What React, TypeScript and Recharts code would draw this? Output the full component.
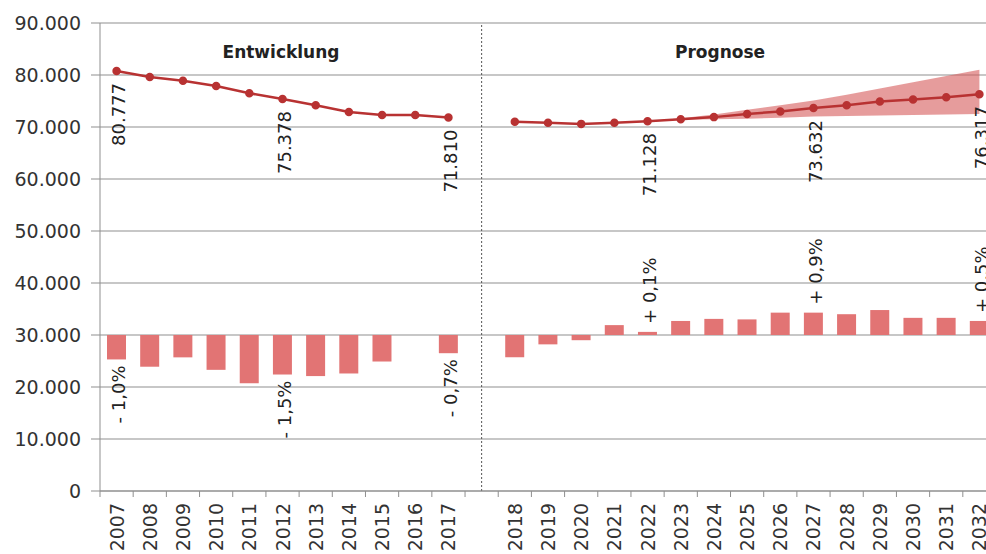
import React from "react";
import {
  ComposedChart,
  Line,
  Bar,
  Area,
  XAxis,
  YAxis,
  CartesianGrid,
  ReferenceLine,
  LabelList,
} from "recharts";

// categories
const YEARS_HIST = ["2007", "2008", "2009", "2010", "2011", "2012", "2013", "2014", "2015", "2016", "2017"];
const YEARS_PROG = [
  "2018", "2019", "2020", "2021", "2022", "2023", "2024", "2025",
  "2026", "2027", "2028", "2029", "2030", "2031", "2032",
];
const GAP = " ";

// line values
const HIST_VALUES = [80777, 79600, 78900, 77900, 76500, 75378, 74200, 72900, 72300, 72300, 71810];
const PROG_VALUES = [
  71000, 70800, 70600, 70800, 71128, 71500, 71900, 72500,
  73000, 73632, 74200, 74900, 75300, 75700, 76317,
];

// forecast corridor
const BAND_LOW = [null, null, null, null, 71128, 71400, 71500, 71600, 71800, 72000, 72100, 72200, 72300, 72400, 72500];
const BAND_HIGH = [null, null, null, null, 71128, 71700, 72400, 73300, 74200, 75100, 76200, 77400, 78600, 79800, 81000];

// bars drawn from the 30.000 line
const BAR_BASE = 30000;
const BAR_HIST = [25300, 23900, 25700, 23300, 20700, 22400, 22100, 22600, 24900, null, 26500];
const BAR_PROG = [
  25700, 28200, 29000, 31900, 30600, 32700, 33100, 33000,
  34300, 34300, 34000, 34800, 33300, 33300, 32700,
];

// labels
const HIST_LABELS = ["80.777", null, null, null, null, "75.378", null, null, null, null, "71.810"];
const PROG_LABELS = [null, null, null, null, "71.128", null, null, null, null, "73.632", null, null, null, null, "76.317"];
const HIST_PCT = ["- 1,0%", null, null, null, null, "- 1,5%", null, null, null, null, "- 0,7%"];
const PROG_PCT = [null, null, null, null, "+ 0,1%", null, null, null, null, "+ 0,9%", null, null, null, null, "+ 0,5%"];

const Y_TICKS = [0, 10000, 20000, 30000, 40000, 50000, 60000, 70000, 80000, 90000];

const FONT = "'DejaVu Sans', Verdana, sans-serif";
const LINE_COLOR = "#b83232";
const BAR_COLOR = "#e27474";
const GRID = "#8f8f8f";

const data = [
  ...YEARS_HIST.map((year, i) => ({
    year,
    hist: HIST_VALUES[i],
    histLabel: HIST_LABELS[i],
    bar: BAR_HIST[i] == null ? null : [BAR_BASE, BAR_HIST[i]],
    pct: HIST_PCT[i],
  })),
  { year: GAP },
  ...YEARS_PROG.map((year, i) => ({
    year,
    prog: PROG_VALUES[i],
    progLabel: PROG_LABELS[i],
    band: BAND_LOW[i] == null ? null : [BAND_LOW[i], BAND_HIGH[i]],
    bar: [BAR_BASE, BAR_PROG[i]],
    pct: PROG_PCT[i],
  })),
];

const fmt = (v: number) => (v === 0 ? "0" : `${v / 1000}.000`);

function YearTick(props: any) {
  const { x, y, payload } = props;
  const half = payload.offset || 16.6;
  const axisY = y - 12;
  return (
    <g>
      <line x1={x - half} x2={x - half} y1={axisY} y2={axisY + 6} stroke={GRID} />
      {payload.value !== GAP && (
        <text
          x={x}
          y={y}
          transform={`rotate(-90 ${x} ${y})`}
          textAnchor="end"
          dominantBaseline="central"
          fontSize={19}
          fontFamily={FONT}
          fill="#333"
        >
          {payload.value}
        </text>
      )}
    </g>
  );
}

function ValueLabel(props: any) {
  const { x, y, value } = props;
  if (value == null || y == null) return null;
  const ty = y + 12;
  return (
    <text
      x={x + 2}
      y={ty}
      transform={`rotate(-90 ${x + 2} ${ty})`}
      textAnchor="end"
      dominantBaseline="central"
      fontSize={18}
      fontFamily={FONT}
      fill="#222"
    >
      {value}
    </text>
  );
}

function PctLabel(props: any) {
  const { x, y, width, height, value } = props;
  if (value == null) return null;
  const cx = x + width / 2 + 2;
  const top = Math.min(y, y + height);
  const bottom = Math.max(y, y + height);
  const down = String(value).startsWith("-");
  const ty = down ? bottom + 6 : top - 8;
  return (
    <text
      x={cx}
      y={ty}
      transform={`rotate(-90 ${cx} ${ty})`}
      textAnchor={down ? "end" : "start"}
      dominantBaseline="central"
      fontSize={18}
      fontFamily={FONT}
      fill="#222"
    >
      {value}
    </text>
  );
}

const titleStyle: React.CSSProperties = {
  position: "absolute",
  top: 52,
  transform: "translate(-50%, -50%)",
  fontFamily: FONT,
  fontWeight: "bold",
  fontSize: 17,
  color: "#222",
  whiteSpace: "nowrap",
};

export default function App() {
  return (
    <div
      style={{
        position: "fixed",
        left: 0,
        top: 0,
        width: 986,
        height: 554,
        overflow: "hidden",
        background: "#fff",
      }}
    >
      <ComposedChart
        width={1000}
        height={554}
        data={data}
        margin={{ top: 23, right: 4, left: 0, bottom: 0 }}
        barCategoryGap={0}
      >
        <CartesianGrid vertical={false} stroke={GRID} strokeWidth={1.2} />
        <XAxis
          dataKey="year"
          interval={0}
          height={63}
          tickLine={false}
          tickSize={6}
          tickMargin={6}
          axisLine={{ stroke: GRID }}
          tick={<YearTick />}
        />
        <YAxis
          width={100}
          domain={[0, 90000]}
          ticks={Y_TICKS}
          tickFormatter={fmt}
          tickSize={9}
          tickMargin={10}
          tickLine={{ stroke: GRID }}
          axisLine={{ stroke: GRID }}
          tick={{ fontSize: 19, fontFamily: FONT, fill: "#333" }}
        />
        <ReferenceLine x={GAP} stroke="#555" strokeDasharray="2 2" />
        <Bar dataKey="bar" fill={BAR_COLOR} barSize={19} isAnimationActive={false}>
          <LabelList dataKey="pct" content={<PctLabel />} />
        </Bar>
        <Area
          dataKey="band"
          fill="#d55a5a"
          fillOpacity={0.6}
          stroke="none"
          connectNulls={false}
          isAnimationActive={false}
        />
        <Line
          dataKey="hist"
          stroke={LINE_COLOR}
          strokeWidth={2.5}
          dot={{ r: 3, fill: LINE_COLOR, stroke: LINE_COLOR }}
          isAnimationActive={false}
        >
          <LabelList dataKey="histLabel" content={<ValueLabel />} />
        </Line>
        <Line
          dataKey="prog"
          stroke={LINE_COLOR}
          strokeWidth={2.5}
          dot={{ r: 3, fill: LINE_COLOR, stroke: LINE_COLOR }}
          isAnimationActive={false}
        >
          <LabelList dataKey="progLabel" content={<ValueLabel />} />
        </Line>
      </ComposedChart>
      <div style={{ ...titleStyle, left: 281 }}>Entwicklung</div>
      <div style={{ ...titleStyle, left: 720 }}>Prognose</div>
    </div>
  );
}
